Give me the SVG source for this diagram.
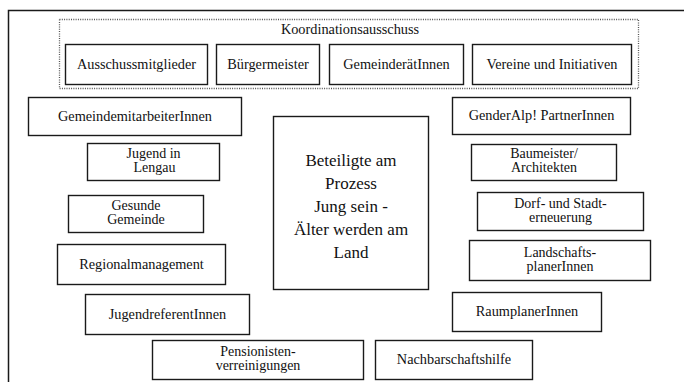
<svg xmlns="http://www.w3.org/2000/svg" width="684" height="382" viewBox="0 0 684 382">
<style>
.b{fill:#fff;stroke:#1a1a1a;stroke-width:1.4}
text{font-family:'Liberation Serif','Times New Roman',Tinos,'DejaVu Serif',serif;fill:#111;text-anchor:middle}
.t{font-size:14.3px}
.s{font-size:14px}
.c{font-size:17px}
</style>
<rect width="684" height="382" fill="#fff"/>
<path d="M8.5 382 V10.5 H684" fill="none" stroke="#1a1a1a" stroke-width="1.5"/>
<g id="koordination">
<rect x="59.5" y="19.5" width="579" height="69" fill="none" stroke="#555" stroke-width="1.3" stroke-dasharray="1,1.3"/>
<text class="t" x="350" y="34">Koordinationsausschuss</text>
</g>
<g id="ausschussmitglieder"><rect class="b" x="65.5" y="44.5" width="142" height="40"/><text class="t" x="136.5" y="69">Ausschussmitglieder</text></g>
<g id="buergermeister"><rect class="b" x="216.5" y="44.5" width="103" height="40"/><text class="t" x="268" y="69">Bürgermeister</text></g>
<g id="gemeinderaete"><rect class="b" x="329.5" y="44.5" width="134" height="40"/><text class="t" x="396.5" y="69">GemeinderätInnen</text></g>
<g id="vereine"><rect class="b" x="472.5" y="44.5" width="159" height="40"/><text class="t" x="552" y="69">Vereine und Initiativen</text></g>

<g id="gemeindemitarbeiter"><rect class="b" x="28.5" y="97.5" width="213" height="38"/><text class="t" x="135" y="121">GemeindemitarbeiterInnen</text></g>
<g id="jugend-lengau"><rect class="b" x="87.5" y="143.5" width="132" height="37"/><text class="s" x="153.5" y="158">Jugend in</text><text class="s" x="154.5" y="172">Lengau</text></g>
<g id="gesunde-gemeinde"><rect class="b" x="68.5" y="195.5" width="135" height="37"/><text class="s" x="136" y="210">Gesunde</text><text class="s" x="136" y="224">Gemeinde</text></g>
<g id="regionalmanagement"><rect class="b" x="57.5" y="244.5" width="168" height="40"/><text class="t" x="141.5" y="269">Regionalmanagement</text></g>
<g id="jugendreferenten"><rect class="b" x="85.5" y="294.5" width="164" height="40"/><text class="t" x="167.5" y="319">JugendreferentInnen</text></g>
<g id="pensionisten"><rect class="b" x="152.5" y="340.5" width="211" height="39"/><text class="s" x="258" y="356">Pensionisten-</text><text class="s" x="258" y="370">verreinigungen</text></g>

<g id="zentrum"><rect class="b" x="273.5" y="116.5" width="155" height="173"/>
<text class="c" x="351" y="166">Beteiligte am</text>
<text class="c" x="351" y="189">Prozess</text>
<text class="c" x="351" y="212">Jung sein -</text>
<text class="c" x="351" y="235">Älter werden am</text>
<text class="c" x="351" y="258">Land</text></g>

<g id="nachbarschaftshilfe"><rect class="b" x="375.5" y="340.5" width="157" height="39"/><text class="t" x="454" y="364">Nachbarschaftshilfe</text></g>
<g id="genderalp"><rect class="b" x="452.5" y="97.5" width="178" height="37"/><text class="t" x="541.5" y="120">GenderAlp! PartnerInnen</text></g>
<g id="baumeister"><rect class="b" x="471.5" y="144.5" width="145" height="36"/><text class="s" x="544" y="158">Baumeister/</text><text class="s" x="544" y="172">Architekten</text></g>
<g id="dorferneuerung"><rect class="b" x="477.5" y="192.5" width="166" height="38"/><text class="s" x="560.5" y="208">Dorf- und Stadt-</text><text class="s" x="560.5" y="222">erneuerung</text></g>
<g id="landschaftsplaner"><rect class="b" x="469.5" y="240.5" width="181" height="40"/><text class="s" x="560" y="257">Landschafts-</text><text class="s" x="560" y="271">planerInnen</text></g>
<g id="raumplaner"><rect class="b" x="452.5" y="292.5" width="149" height="39"/><text class="t" x="527" y="316">RaumplanerInnen</text></g>
<g id="connectors"/>
</svg>
